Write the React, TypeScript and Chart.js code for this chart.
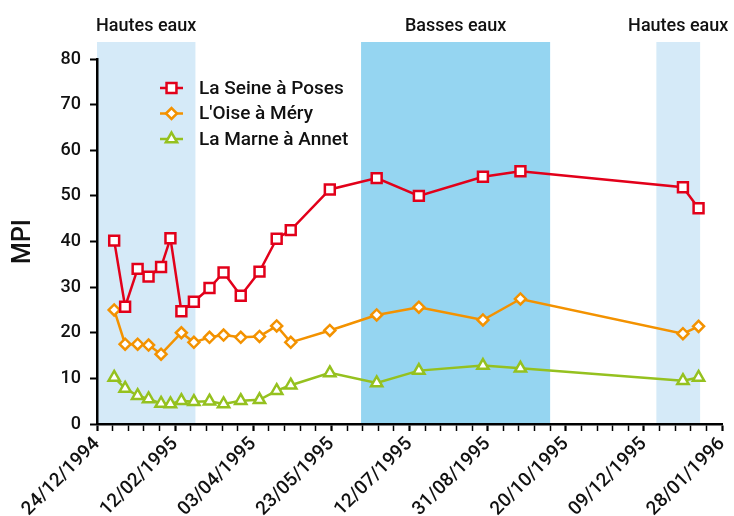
import React, { useEffect, useRef } from 'react';
import { Chart, registerables } from 'chart.js';

Chart.register(...registerables);

// ---------- data ----------
const axisStart = '24/12/1994';
const axisEnd = '28/01/1996';
const xTickStepDays = 10;
const xLabelStepDays = 50;

const seineDates = ['04/01/1995', '11/01/1995', '19/01/1995', '26/01/1995', '03/02/1995', '09/02/1995', '16/02/1995', '24/02/1995', '06/03/1995', '15/03/1995', '26/03/1995', '07/04/1995', '18/04/1995', '27/04/1995', '22/05/1995', '21/06/1995', '18/07/1995', '28/08/1995', '21/09/1995', '03/01/1996', '13/01/1996'];
const seineValues = [40.2, 25.7, 34.0, 32.3, 34.4, 40.7, 24.7, 26.8, 29.8, 33.2, 28.1, 33.4, 40.6, 42.5, 51.4, 53.9, 50.0, 54.2, 55.4, 51.9, 47.3];

const oiseDates = ['04/01/1995', '11/01/1995', '19/01/1995', '26/01/1995', '03/02/1995', '16/02/1995', '24/02/1995', '06/03/1995', '15/03/1995', '26/03/1995', '07/04/1995', '18/04/1995', '27/04/1995', '22/05/1995', '21/06/1995', '18/07/1995', '28/08/1995', '21/09/1995', '03/01/1996', '13/01/1996'];
const oiseValues = [25.0, 17.5, 17.5, 17.3, 15.3, 20.0, 17.9, 19.0, 19.5, 19.0, 19.2, 21.5, 17.9, 20.5, 23.9, 25.6, 22.8, 27.4, 19.8, 21.4];

const marneDates = ['04/01/1995', '11/01/1995', '19/01/1995', '26/01/1995', '03/02/1995', '09/02/1995', '16/02/1995', '24/02/1995', '06/03/1995', '15/03/1995', '26/03/1995', '07/04/1995', '18/04/1995', '27/04/1995', '22/05/1995', '21/06/1995', '18/07/1995', '28/08/1995', '21/09/1995', '03/01/1996', '13/01/1996'];
const marneValues = [10.2, 7.8, 6.2, 5.5, 4.5, 4.4, 5.1, 4.9, 5.0, 4.4, 5.1, 5.3, 7.3, 8.5, 11.2, 9.0, 11.7, 12.8, 12.2, 9.5, 10.2];

const seriesNames = ['La Seine à Poses', "L'Oise à Méry", 'La Marne à Annet'];
const seriesColors = ['#e2001a', '#f39200', '#95c11f'];

const bandStarts = ['24/12/1994', '11/06/1995', '17/12/1995'];
const bandEnds = ['25/02/1995', '10/10/1995', '14/01/1996'];
const bandLabels = ['Hautes eaux', 'Basses eaux', 'Hautes eaux'];
const bandColors = ['#d5eaf8', '#95d5f1', '#d5eaf8'];

const yMin = 0;
const yMax = 80;
const yStep = 10;
const yTitle = 'MPI';

// ---------- helpers ----------
function parseDate(s: string): number {
  const [d, m, y] = s.split('/').map(Number);
  return Date.UTC(y, m - 1, d);
}
const originMs = parseDate(axisStart);
function toDay(s: string): number {
  return Math.round((parseDate(s) - originMs) / 86400000);
}
function fmtDay(v: number): string {
  const dt = new Date(originMs + v * 86400000);
  const dd = String(dt.getUTCDate()).padStart(2, '0');
  const mm = String(dt.getUTCMonth() + 1).padStart(2, '0');
  return `${dd}/${mm}/${dt.getUTCFullYear()}`;
}
function toPoints(dates: string[], values: number[]) {
  return dates.map((d, i) => ({ x: toDay(d), y: values[i] }));
}

const FONT = 'Roboto';

function drawMarker(ctx: CanvasRenderingContext2D, style: string, x: number, y: number, r: number) {
  ctx.beginPath();
  if (style === 'rect') {
    const s = Math.SQRT1_2 * r;
    ctx.rect(x - s, y - s, 2 * s, 2 * s);
  } else if (style === 'rectRot') {
    ctx.moveTo(x - r, y);
    ctx.lineTo(x, y - r);
    ctx.lineTo(x + r, y);
    ctx.lineTo(x, y + r);
    ctx.closePath();
  } else {
    let rad = 0;
    ctx.moveTo(x + Math.sin(rad) * r, y - Math.cos(rad) * r);
    rad += (2 * Math.PI) / 3;
    ctx.lineTo(x + Math.sin(rad) * r, y - Math.cos(rad) * r);
    rad += (2 * Math.PI) / 3;
    ctx.lineTo(x + Math.sin(rad) * r, y - Math.cos(rad) * r);
    ctx.closePath();
  }
  ctx.fill();
  ctx.stroke();
}

const bandsPlugin = {
  id: 'seasonBands',
  beforeDraw(chart: any) {
    const { ctx, chartArea } = chart;
    const x = chart.scales.x;
    ctx.save();
    bandStarts.forEach((s, i) => {
      const x0 = x.getPixelForValue(toDay(s));
      const x1 = x.getPixelForValue(toDay(bandEnds[i]));
      ctx.fillStyle = bandColors[i];
      ctx.fillRect(x0, chartArea.top - 17, x1 - x0, chartArea.bottom - chartArea.top + 17);
      ctx.fillStyle = '#111';
      ctx.font = `500 18px ${FONT}`;
      ctx.textAlign = 'center';
      ctx.textBaseline = 'middle';
      ctx.fillText(bandLabels[i], (x0 + x1) / 2, chartArea.top - 33);
    });
    ctx.restore();
  },
};

const legendPlugin = {
  id: 'innerLegend',
  afterDatasetsDraw(chart: any) {
    const { ctx, chartArea } = chart;
    ctx.save();
    chart.data.datasets.forEach((ds: any, i: number) => {
      const y = chartArea.top + 29 + i * 25.5;
      const lx0 = chartArea.left + 63;
      const lx1 = chartArea.left + 86;
      ctx.strokeStyle = ds.borderColor;
      ctx.lineWidth = ds.borderWidth;
      ctx.beginPath();
      ctx.moveTo(lx0, y);
      ctx.lineTo(lx1, y);
      ctx.stroke();
      ctx.fillStyle = '#fff';
      ctx.lineWidth = ds.pointBorderWidth;
      drawMarker(ctx, ds.pointStyle, (lx0 + lx1) / 2, y, ds.pointRadius);
      ctx.fillStyle = '#111';
      ctx.font = `500 19px ${FONT}`;
      ctx.textAlign = 'left';
      ctx.textBaseline = 'middle';
      ctx.fillText(ds.label, chartArea.left + 102, y + 1);
    });
    ctx.restore();
  },
};

export default function App() {
  const ref = useRef<HTMLCanvasElement | null>(null);

  useEffect(() => {
    if (!ref.current) return;
    Chart.defaults.font.family = FONT;
    const chart = new Chart(ref.current, {
      type: 'line',
      data: {
        datasets: [
          {
            label: seriesNames[0],
            data: toPoints(seineDates, seineValues),
            borderColor: seriesColors[0],
            backgroundColor: '#fff',
            borderWidth: 2.5,
            pointStyle: 'rect',
            pointRadius: 7,
            pointBorderWidth: 2.5,
            pointBackgroundColor: '#fff',
            pointBorderColor: seriesColors[0],
            tension: 0,
          },
          {
            label: seriesNames[1],
            data: toPoints(oiseDates, oiseValues),
            borderColor: seriesColors[1],
            backgroundColor: '#fff',
            borderWidth: 2.5,
            pointStyle: 'rectRot',
            pointRadius: 5.5,
            pointBorderWidth: 2.5,
            pointBackgroundColor: '#fff',
            pointBorderColor: seriesColors[1],
            tension: 0,
          },
          {
            label: seriesNames[2],
            data: toPoints(marneDates, marneValues),
            borderColor: seriesColors[2],
            backgroundColor: '#fff',
            borderWidth: 2.5,
            pointStyle: 'triangle',
            pointRadius: 6.5,
            pointBorderWidth: 2.5,
            pointBackgroundColor: '#fff',
            pointBorderColor: seriesColors[2],
            tension: 0,
          },
        ],
      } as any,
      options: {
        responsive: false,
        animation: false,
        devicePixelRatio: 1,
        layout: { padding: { left: 0, top: 59, right: 12, bottom: 0 } },
        plugins: {
          legend: { display: false },
          tooltip: { enabled: false },
        },
        scales: {
          x: {
            type: 'linear',
            min: 0,
            max: toDay(axisEnd),
            afterFit: (s: any) => {
              s.height = 92;
              s.paddingLeft = 0;
              s.paddingRight = 0;
            },
            border: { display: true, color: '#000', width: 2.5 },
            grid: {
              drawOnChartArea: false,
              drawTicks: true,
              tickLength: 7,
              color: '#000',
              tickColor: '#000',
              tickWidth: (c: any) => (c.tick && c.tick.value % xLabelStepDays === 0 ? 2.2 : 1.5),
            },
            ticks: {
              stepSize: xTickStepDays,
              autoSkip: false,
              minRotation: 45,
              maxRotation: 45,
              padding: 2,
              color: '#111',
              font: { size: 19, weight: 500 as any },
              callback: (v: any) => (Number(v) % xLabelStepDays === 0 ? fmtDay(Number(v)) : ''),
            },
          },
          y: {
            type: 'linear',
            min: yMin,
            max: yMax,
            afterFit: (s: any) => {
              s.width = 97;
              s.paddingTop = 0;
              s.paddingBottom = 0;
            },
            border: { display: true, color: '#000', width: 2.5 },
            grid: {
              drawOnChartArea: false,
              drawTicks: true,
              tickLength: 7,
              tickColor: '#000',
              tickWidth: 2,
            },
            ticks: {
              stepSize: yStep,
              padding: 9,
              color: '#111',
              font: { size: 18, weight: 500 as any },
            },
            title: {
              display: true,
              text: yTitle,
              color: '#111',
              font: { size: 25, weight: 500 as any },
              padding: { top: 9, bottom: 0 },
            },
          },
        },
      } as any,
      plugins: [bandsPlugin, legendPlugin],
    });
    return () => chart.destroy();
  }, []);

  return (
    <div style={{ position: 'fixed', left: 0, top: 0, width: 734, height: 516, background: '#fff' }}>
      <canvas ref={ref} width={734} height={516} style={{ width: 734, height: 516, display: 'block' }} />
    </div>
  );
}
